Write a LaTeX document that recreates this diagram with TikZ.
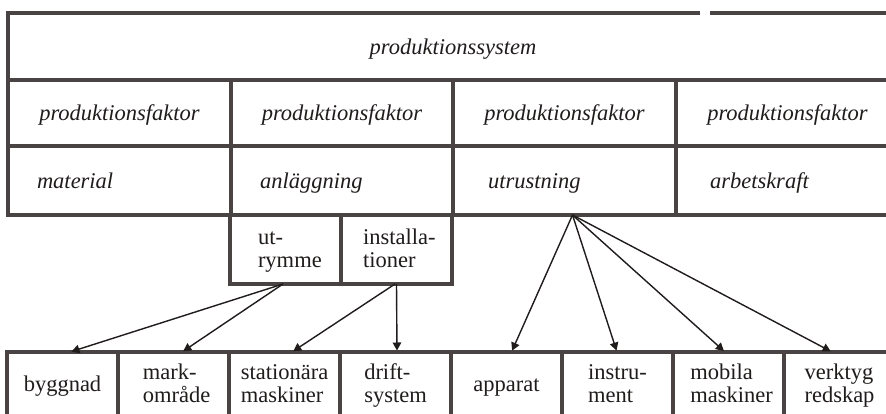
\documentclass[tikz,border=0pt]{standalone}
\usepackage{fontspec}
\setmainfont{Liberation Serif}
\usetikzlibrary{arrows.meta}
\definecolor{rule}{HTML}{4A4343}
\definecolor{ink}{HTML}{201C1C}
\newcommand\boxfont{\fontsize{22.5}{23}\selectfont}
\newcommand\boxitfont{\fontsize{22.5}{23}\selectfont\itshape}
\newcommand\twolines[2]{\begin{tabular}[t]{@{}l@{}}#1\\#2\end{tabular}}

\begin{document}
\begin{tikzpicture}[x=1pt,y=-1pt,
  cell/.style={draw=rule,line width=3.2pt,inner sep=0pt,outer sep=0pt,anchor=north west},
  lab/.style={inner sep=0pt,outer sep=0pt,text=ink,font=\boxfont},
  ilab/.style={lab,font=\boxitfont},
  arr/.style={draw=ink,line width=1.4pt,-{Triangle[length=8pt,width=8.5pt]},shorten >=1.5pt}]

\fill[white] (0,0) rectangle (886,414);
\useasboundingbox (0,0) rectangle (886,414);

% system box (its top rule has a small break)
\node[cell,draw=none,minimum width=891,minimum height=67] (sys) at (8,13) {};
\draw[rule,line width=3.2pt] ([xshift=692]sys.north west) -- (sys.north west) -- (sys.south west);
\draw[rule,line width=3.2pt] ([xshift=702]sys.north west) -- (sys.north east);

% factor row
\node[cell,minimum width=223,minimum height=66] (f1) at (8,80) {};
\node[cell,minimum width=222,minimum height=66] (f2) at (231,80) {};
\node[cell,minimum width=223,minimum height=66] (f3) at (453,80) {};
\node[cell,minimum width=223,minimum height=66] (f4) at (676,80) {};

% kind row
\node[cell,minimum width=223,minimum height=69] (material) at (8,146) {};
\node[cell,minimum width=222,minimum height=69] (anlaggning) at (231,146) {};
\node[cell,minimum width=223,minimum height=69] (utrustning) at (453,146) {};
\node[cell,minimum width=223,minimum height=69] (arbetskraft) at (676,146) {};

% parts of the plant
\node[cell,minimum width=111,minimum height=69] (utrymme) at (230,215) {};
\node[cell,minimum width=111,minimum height=69] (installationer) at (341,215) {};

% bottom row
\node[cell,minimum width=111,minimum height=80] (byggnad) at (7,352) {};
\node[cell,minimum width=111,minimum height=80] (markomrade) at (118,352) {};
\node[cell,minimum width=111,minimum height=80] (stationara) at (229,352) {};
\node[cell,minimum width=111,minimum height=80] (driftsystem) at (340,352) {};
\node[cell,minimum width=111,minimum height=80] (apparat) at (451,352) {};
\node[cell,minimum width=111,minimum height=80] (instrument) at (562,352) {};
\node[cell,minimum width=111,minimum height=80] (mobila) at (673,352) {};
\node[cell,minimum width=111,minimum height=80] (verktyg) at (784,352) {};

% labels
\node[ilab,anchor=base] (t-sys) at (453,55) {produktionssystem};
\foreach \c in {f1,f2,f3,f4}
  \node[ilab,anchor=base] (t-\c) at (\c.center |- 0,121) {produktionsfaktor};
\node[ilab,anchor=base west] (t-material) at (37,188.5) {material};
\node[ilab,anchor=base west] (t-anlaggning) at (260,188.5) {anläggning};
\node[ilab,anchor=base west] (t-utrustning) at (488,188.5) {utrustning};
\node[ilab,anchor=base west] (t-arbetskraft) at (710,188.5) {arbetskraft};

\node[lab,anchor=base west] (t-utrymme) at (258,244) {\twolines{ut-}{rymme}};
\node[lab,anchor=base west] (t-installationer) at (363,244) {\twolines{installa-}{tioner}};

\node[lab,anchor=base] (t-byggnad) at (byggnad.center |- 0,391) {byggnad};
\node[lab,anchor=base] (t-markomrade) at ([xshift=3]markomrade.center |- 0,379) {\twolines{mark-}{område}};
\node[lab,anchor=base] (t-stationara) at (stationara.center |- 0,379) {\twolines{stationära}{maskiner}};
\node[lab,anchor=base] (t-driftsystem) at (driftsystem.center |- 0,379) {\twolines{drift-}{system}};
\node[lab,anchor=base] (t-apparat) at (apparat.center |- 0,391) {apparat};
\node[lab,anchor=base] (t-instrument) at (instrument.center |- 0,379) {\twolines{instru-}{ment}};
\node[lab,anchor=base] (t-mobila) at ([xshift=3]mobila.center |- 0,379) {\twolines{mobila}{maskiner}};
\node[lab,anchor=base] (t-verktyg) at (verktyg.center |- 0,379) {\twolines{verktyg}{redskap}};

% connectors
\draw[arr] ([xshift=-2.5]utrymme.south) -- ([xshift=7.5]byggnad.north);
\draw[arr] ([xshift=-2.5]utrymme.south) -- ([xshift=8.5]markomrade.north);
\draw[arr] ([xshift=-1.5]installationer.south) -- ([xshift=7.5]stationara.north);
\draw[arr] (installationer.south) -- ([xshift=1.5]driftsystem.north);
\draw[arr] ([xshift=8]utrustning.south) -- ([xshift=5]apparat.north);
\draw[arr] ([xshift=8]utrustning.south) -- ([xshift=-0.5]instrument.north);
\draw[arr] ([xshift=8]utrustning.south) -- ([xshift=-3.5]mobila.north);
\draw[arr] ([xshift=8]utrustning.south) -- ([xshift=-7.5]verktyg.north);
\end{tikzpicture}
\end{document}
